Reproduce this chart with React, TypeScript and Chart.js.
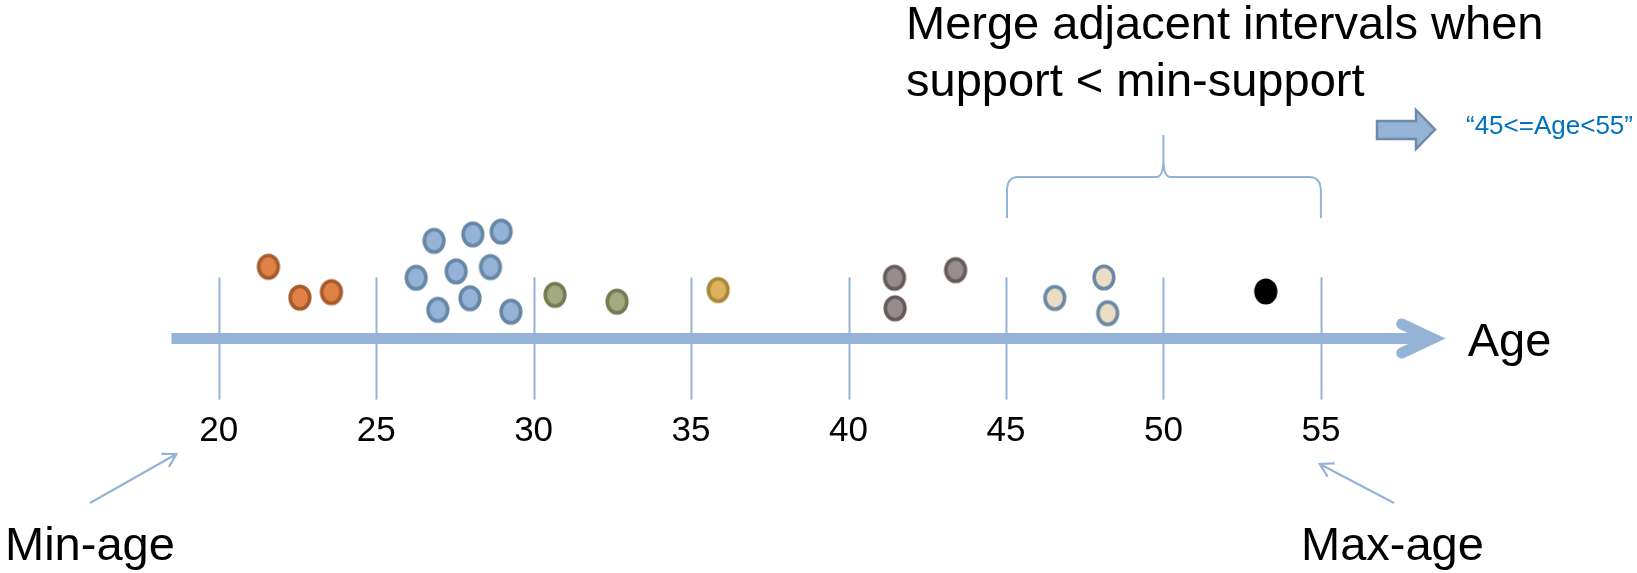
import React, { useEffect, useRef } from "react";
import { Chart, registerables } from "chart.js";

Chart.register(...registerables);

// ---- data (age, height above the axis) ----
const orangeAges = [21.58, 22.58, 23.58];
const orangeLevels = [2.35, 1.34, 1.52];
const blueAges = [26.84, 28.07, 28.97, 26.27, 27.54, 28.63, 26.96, 27.98, 29.28];
const blueLevels = [3.2, 3.41, 3.5, 1.99, 2.2, 2.34, 0.94, 1.32, 0.88];
const greenAges = [30.68, 32.65];
const greenLevels = [1.43, 1.21];
const goldAges = [35.86];
const goldLevels = [1.59];
const grayAges = [41.46, 41.48, 43.4];
const grayLevels = [1.99, 0.99, 2.24];
const creamAges = [46.55, 48.11, 48.23];
const creamLevels = [1.33, 2.0, 0.83];
const blackAges = [53.25];
const blackLevels = [1.54];

const tickValues = [20, 25, 30, 35, 40, 45, 50, 55];
const tickLabels = ["20", "25", "30", "35", "40", "45", "50", "55"];
const axisTitle = "Age";
const minLabel = "Min-age";
const maxLabel = "Max-age";
const noteLines = ["Merge adjacent intervals when", "support < min-support"];
const resultLabel = "\u201C45<=Age<55\u201D";
const mergeFrom = 45;
const mergeMid = 50;
const mergeTo = 55;

const AXIS_BLUE = "#95B3D7";
const FONT = "'Liberation Sans', Arial, sans-serif";

function ellipseImage(fill: string, stroke: string | null): HTMLCanvasElement {
  const c = document.createElement("canvas");
  c.width = 26;
  c.height = 29;
  const ctx = c.getContext("2d")!;
  const lw = stroke ? 3.6 : 0;
  ctx.beginPath();
  ctx.ellipse(13, 14.5, 11.6 - lw / 2, 13.1 - lw / 2, 0, 0, Math.PI * 2);
  ctx.fillStyle = fill;
  ctx.fill();
  if (stroke) {
    ctx.lineWidth = lw;
    ctx.strokeStyle = stroke;
    ctx.stroke();
  }
  return c;
}

function pts(xs: number[], ys: number[]) {
  return xs.map((x, i) => ({ x, y: ys[i] }));
}

function arrowLine(ctx: CanvasRenderingContext2D, x1: number, y1: number, x2: number, y2: number) {
  ctx.beginPath();
  ctx.moveTo(x1, y1);
  ctx.lineTo(x2, y2);
  const a = Math.atan2(y2 - y1, x2 - x1);
  const L = 15;
  const s = Math.PI / 6;
  ctx.moveTo(x2 - L * Math.cos(a - s), y2 - L * Math.sin(a - s));
  ctx.lineTo(x2, y2);
  ctx.lineTo(x2 - L * Math.cos(a + s), y2 - L * Math.sin(a + s));
  ctx.stroke();
}

const decorPlugin = {
  id: "decor",
  beforeDatasetsDraw(chart: any) {
    const { ctx } = chart;
    const xs = chart.scales.x;
    const ys = chart.scales.y;
    const y0 = ys.getPixelForValue(0);
    ctx.save();
    // tick lines
    ctx.strokeStyle = AXIS_BLUE;
    ctx.lineWidth = 2;
    tickValues.forEach((v) => {
      const px = Math.round(xs.getPixelForValue(v)) + 0.5;
      ctx.beginPath();
      ctx.moveTo(px, ys.getPixelForValue(2));
      ctx.lineTo(px, ys.getPixelForValue(-2));
      ctx.stroke();
    });
    // axis line
    const startX = xs.getPixelForValue(18.5);
    const vertexX = xs.getPixelForValue(58.55);
    ctx.lineWidth = 11;
    ctx.lineCap = "butt";
    ctx.beginPath();
    ctx.moveTo(startX, y0);
    ctx.lineTo(vertexX, y0);
    ctx.stroke();
    // chevron head
    ctx.lineCap = "round";
    ctx.lineJoin = "miter";
    ctx.beginPath();
    ctx.moveTo(vertexX - 31, y0 - 14.5);
    ctx.lineTo(vertexX, y0);
    ctx.lineTo(vertexX - 31, y0 + 14.5);
    ctx.stroke();
    // tick labels
    ctx.fillStyle = "#000";
    ctx.font = `35px ${FONT}`;
    ctx.textAlign = "center";
    ctx.textBaseline = "middle";
    tickValues.forEach((v, i) => {
      ctx.fillText(tickLabels[i], xs.getPixelForValue(v), ys.getPixelForValue(-3.05));
    });
    ctx.restore();
  },
  afterDraw(chart: any) {
    const { ctx } = chart;
    const xs = chart.scales.x;
    const ys = chart.scales.y;
    ctx.save();
    ctx.fillStyle = "#000";
    ctx.textBaseline = "alphabetic";
    ctx.textAlign = "left";
    ctx.font = `47px ${FONT}`;
    // axis title
    ctx.fillText(axisTitle, xs.getPixelForValue(59.66), ys.getPixelForValue(-0.56));
    // min / max labels
    ctx.fillText(minLabel, 5, 560);
    ctx.fillText(maxLabel, 1301, 560);
    // note
    ctx.fillText(noteLines[0], 906, 39);
    ctx.fillText(noteLines[1], 906, 96);
    // result label
    ctx.font = `26px ${FONT}`;
    ctx.fillStyle = "#0070C0";
    ctx.fillText(resultLabel, 1466, 134);

    // thin arrows
    ctx.strokeStyle = AXIS_BLUE;
    ctx.lineWidth = 2.2;
    ctx.lineCap = "butt";
    arrowLine(ctx, 90, 503, xs.getPixelForValue(18.66), 454);
    arrowLine(ctx, 1394, 503, xs.getPixelForValue(54.96), 464);

    // brace
    const xa = xs.getPixelForValue(mergeFrom);
    const xm = xs.getPixelForValue(mergeMid);
    const xb = xs.getPixelForValue(mergeTo);
    const yBot = 218;
    const yBar = 177;
    const yTop = 135;
    ctx.lineWidth = 2;
    ctx.beginPath();
    ctx.moveTo(xa + 1, yBot);
    ctx.lineTo(xa + 1, yBar + 14);
    ctx.quadraticCurveTo(xa + 1, yBar, xa + 12, yBar);
    ctx.lineTo(xm - 7, yBar);
    ctx.quadraticCurveTo(xm, yBar, xm, yBar - 18);
    ctx.lineTo(xm, yTop);
    ctx.moveTo(xm, yBar - 18);
    ctx.quadraticCurveTo(xm, yBar, xm + 7, yBar);
    ctx.lineTo(xb - 12, yBar);
    ctx.quadraticCurveTo(xb, yBar, xb, yBar + 14);
    ctx.lineTo(xb, yBot);
    ctx.stroke();

    // block arrow
    ctx.beginPath();
    ctx.moveTo(1377, 121);
    ctx.lineTo(1416, 121);
    ctx.lineTo(1416, 110);
    ctx.lineTo(1435, 129.5);
    ctx.lineTo(1416, 149);
    ctx.lineTo(1416, 139);
    ctx.lineTo(1377, 139);
    ctx.closePath();
    ctx.fillStyle = AXIS_BLUE;
    ctx.fill();
    ctx.strokeStyle = "#6D8AA8";
    ctx.lineWidth = 2.5;
    ctx.lineJoin = "miter";
    ctx.stroke();
    ctx.restore();
  },
};

export default function App() {
  const ref = useRef<HTMLCanvasElement | null>(null);
  useEffect(() => {
    if (!ref.current) return;
    const mk = (label: string, xsArr: number[], ysArr: number[], fill: string, stroke: string | null) => ({
      label,
      data: pts(xsArr, ysArr),
      pointStyle: ellipseImage(fill, stroke),
      pointRadius: 12,
      pointHoverRadius: 12,
      backgroundColor: fill,
      borderColor: stroke || fill,
    });
    const chart = new Chart(ref.current, {
      type: "scatter",
      data: {
        datasets: [
          mk("orange", orangeAges, orangeLevels, "#E08247", "#A65B2B"),
          mk("blue", blueAges, blueLevels, "#95B3D7", "#6787A6"),
          mk("green", greenAges, greenLevels, "#A2AA82", "#767A50"),
          mk("gold", goldAges, goldLevels, "#DDB25C", "#A88838"),
          mk("gray", grayAges, grayLevels, "#978D8D", "#655B5B"),
          mk("cream", creamAges, creamLevels, "#EADDC3", "#6A89A6"),
          mk("black", blackAges, blackLevels, "#000000", null),
        ] as any,
      },
      options: {
        responsive: false,
        animation: false,
        layout: { padding: 0 },
        plugins: { legend: { display: false }, tooltip: { enabled: false } },
        scales: {
          x: { type: "linear", display: false, min: 13.46875, max: 64.625 },
          y: { type: "linear", display: false, min: -7.25, max: 10.65625 },
        },
      },
      plugins: [decorPlugin],
    });
    return () => chart.destroy();
  }, []);
  return (
    <div style={{ position: "absolute", left: 0, top: 0, width: 1637, height: 573, background: "#fff" }}>
      <canvas ref={ref} width={1637} height={573} style={{ display: "block" }} />
    </div>
  );
}
